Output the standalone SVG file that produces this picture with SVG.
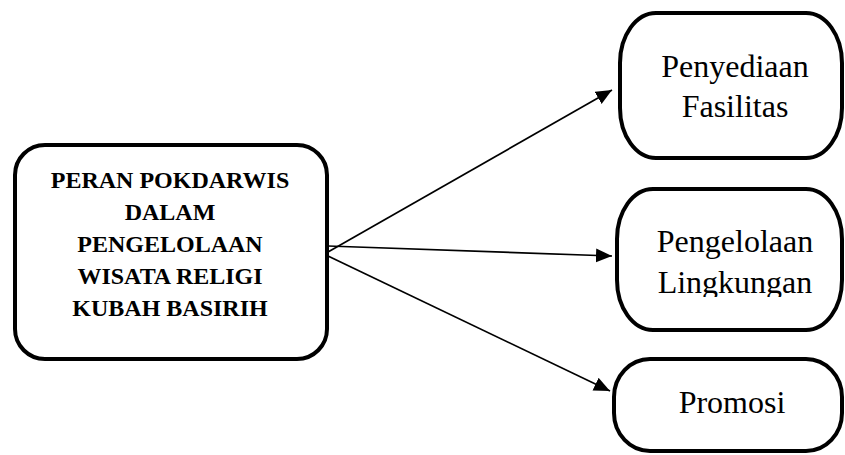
<svg xmlns="http://www.w3.org/2000/svg" width="845" height="455" viewBox="0 0 845 455">
  <style>
    .box { fill: #ffffff; stroke: #000000; stroke-width: 4; }
    .conn { stroke: #000000; stroke-width: 1.7; fill: none; }
    .main { font-family: "Liberation Serif", "Times New Roman", serif; font-weight: bold; font-size: 24px; fill: #000; text-anchor: middle; }
    .sub { font-family: "Liberation Serif", "Times New Roman", serif; font-size: 32px; fill: #000; text-anchor: middle; }
  </style>
  <defs>
    <marker id="arrow" markerUnits="userSpaceOnUse" markerWidth="17" markerHeight="15" refX="16" refY="7" orient="auto">
      <path d="M0,0 L16,7 L0,14 z" fill="#000"/>
    </marker>
    <clipPath id="clip2">
      <rect x="600" y="180" width="245" height="117"/>
    </clipPath>
  </defs>
  <rect width="845" height="455" fill="#ffffff"/>
  <g id="connectors">
    <line class="conn" x1="328" y1="252" x2="612" y2="90" marker-end="url(#arrow)"/>
    <line class="conn" x1="328" y1="246" x2="612" y2="256" marker-end="url(#arrow)"/>
    <line class="conn" x1="328" y1="256" x2="610" y2="391" marker-end="url(#arrow)"/>
  </g>
  <g id="main">
    <rect class="box" x="15" y="145" width="312" height="214" rx="30" ry="30"/>
    <text class="main" x="170" y="188">PERAN POKDARWIS</text>
    <text class="main" x="170" y="220">DALAM</text>
    <text class="main" x="170" y="252">PENGELOLAAN</text>
    <text class="main" x="170" y="284">WISATA RELIGI</text>
    <text class="main" x="170" y="316">KUBAH BASIRIH</text>
  </g>
  <g id="fasilitas">
    <rect class="box" x="620" y="13" width="222" height="145" rx="36" ry="50"/>
    <text class="sub" x="735" y="77">Penyediaan</text>
    <text class="sub" x="735" y="117">Fasilitas</text>
  </g>
  <g id="lingkungan">
    <rect class="box" x="617" y="189" width="225" height="141" rx="36" ry="50"/>
    <g clip-path="url(#clip2)">
      <text class="sub" x="735" y="252">Pengelolaan</text>
      <text class="sub" x="735" y="293">Lingkungan</text>
    </g>
  </g>
  <g id="promosi">
    <rect class="box" x="614" y="359" width="228" height="92" rx="36" ry="38"/>
    <text class="sub" x="732" y="413">Promosi</text>
  </g>
</svg>
